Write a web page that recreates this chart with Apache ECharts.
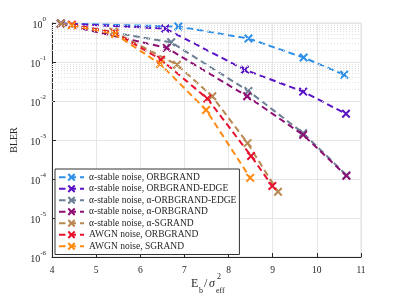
<!DOCTYPE html>
<html><head><meta charset="utf-8">
<script src="https://cdn.jsdelivr.net/npm/echarts@6/dist/echarts.min.js"></script>
<style>html,body{margin:0;padding:0;background:#fff}#c{width:399px;height:299px}</style>
</head><body><div id="c"></div>
<script>
// ---- data ----
const seriesNames = [
  'α-stable noise, ORBGRAND',
  'α-stable noise, ORBGRAND-EDGE',
  'α-stable noise, α-ORBGRAND-EDGE',
  'α-stable noise, α-ORBGRAND',
  'α-stable noise, α-SGRAND',
  'AWGN noise, ORBGRAND',
  'AWGN noise, SGRAND'
];
const xStableOrb = [4.2, 6.86, 8.45, 9.7, 10.62];
const yStableOrb = [0.97, 0.81, 0.40, 0.13, 0.047];
const xStableOrbEdge = [4.2, 6.57, 8.37, 9.69, 10.66];
const yStableOrbEdge = [0.97, 0.72, 0.063, 0.0174, 0.0047];
const xStableAOrbEdge = [4.2, 6.7, 8.45, 9.69, 10.67];
const yStableAOrbEdge = [0.96, 0.32, 0.018, 0.0015, 0.000126];
const xStableAOrb = [4.2, 6.6, 8.42, 9.69, 10.67];
const yStableAOrb = [0.95, 0.23, 0.0132, 0.00135, 0.00012];
const xStableASgrand = [4.2, 5.39, 6.83, 7.63, 8.43, 9.12];
const yStableASgrand = [0.97, 0.6, 0.085, 0.0132, 0.00083, 0.000047];
const xAwgnOrb = [4.45, 5.43, 6.47, 7.52, 8.51, 8.99];
const yAwgnOrb = [0.91, 0.56, 0.115, 0.0115, 0.00039, 0.000066];
const xAwgnSgrand = [4.45, 5.43, 6.45, 7.49, 8.49];
const yAwgnSgrand = [0.87, 0.52, 0.089, 0.0059, 0.000107];
const xTicks = [4, 5, 6, 7, 8, 9, 10, 11];
const yDecades = [-6, -5, -4, -3, -2, -1, 0];

const xs = [xStableOrb, xStableOrbEdge, xStableAOrbEdge, xStableAOrb, xStableASgrand, xAwgnOrb, xAwgnSgrand];
const ys = [yStableOrb, yStableOrbEdge, yStableAOrbEdge, yStableAOrb, yStableASgrand, yAwgnOrb, yAwgnSgrand];
const colors = ['#2e8fe8', '#5a12c6', '#6b7f95', '#8c0f73', '#b98750', '#e8122f', '#ff8a12'];

const FONT = 'Liberation Serif';
const xMark = 'path://M0,0L10,10M10,0L0,10';

const series = seriesNames.map((n, i) => ({
  name: n, type: 'line', z: 3,
  data: xs[i].map((x, j) => [x, ys[i][j]]),
  symbol: xMark, symbolSize: 7.5,
  itemStyle: { color: colors[i], borderColor: colors[i], borderWidth: 2 },
  lineStyle: { color: colors[i], width: 2, type: [6.5, 4] },
  emphasis: { disabled: true }
}));

// minor log grid lines (2..9 per decade)
const minorVals = [];
for (let d = -6; d < 0; d++) for (let k = 2; k <= 9; k++) minorVals.push({ yAxis: k * Math.pow(10, d) });
series.unshift({
  name: '_minor', type: 'line', data: [], z: 1, silent: true,
  markLine: { silent: true, symbol: 'none', label: { show: false },
    lineStyle: { type: [1, 2], color: '#dedede', width: 1 }, data: minorVals }
});

const chart = echarts.init(document.getElementById('c'), null, { renderer: 'canvas' });
chart.setOption({
  animation: false,
  backgroundColor: '#fff',
  grid: { left: 52, right: 38, top: 23, bottom: 42, show: true, borderColor: '#dcdcdc', borderWidth: 1 },
  xAxis: {
    type: 'value', min: 4, max: 11, interval: 1,
    axisLine: { lineStyle: { color: '#262626', width: 1 } },
    axisTick: { inside: true, length: 4, lineStyle: { color: '#262626' } },
    axisLabel: { color: '#262626', fontFamily: FONT, fontSize: 9.5, margin: 8 },
    splitLine: { lineStyle: { color: '#e6e6e6', width: 1 } }
  },
  yAxis: {
    type: 'log', logBase: 10, min: 1e-6, max: 1,
    name: 'BLER', nameLocation: 'middle', nameGap: 28,
    nameTextStyle: { color: '#262626', fontFamily: FONT, fontSize: 10 },
    axisLine: { lineStyle: { color: '#262626', width: 1 } },
    axisTick: { inside: true, length: 4, lineStyle: { color: '#262626' } },
    axisLabel: {
      color: '#262626', fontFamily: FONT, margin: 6,
      formatter: v => '{b|10}{s|' + Math.round(Math.log10(v)) + '}',
      rich: {
        b: { fontFamily: FONT, fontSize: 10, color: '#262626', padding: [5, 0, 0, 0] },
        s: { fontFamily: FONT, fontSize: 7, color: '#262626', verticalAlign: 'top', padding: [0, 0, 6, 0] }
      }
    },
    splitLine: { lineStyle: { color: '#e6e6e6', width: 1 } }
  },
  legend: {
    data: seriesNames, orient: 'vertical', left: 55, top: 169,
    backgroundColor: '#fff', borderColor: '#333', borderWidth: 1,
    padding: [3, 3, 3, 3], itemWidth: 25, itemHeight: 8, itemGap: 1,
    textStyle: { fontFamily: FONT, fontSize: 9.5, color: '#262626', lineHeight: 10.5 },
    selectedMode: false
  },
  graphic: [
    { type: 'text', left: 191, top: 278, style: { text: 'E', font: '12px "Liberation Serif"', fill: '#262626' } },
    { type: 'text', left: 199, top: 287, style: { text: 'b', font: '8px "Liberation Serif"', fill: '#262626' } },
    { type: 'text', left: 204, top: 278, style: { text: '/', font: '12px "Liberation Serif"', fill: '#262626' } },
    { type: 'text', left: 209, top: 278, style: { text: 'σ', font: 'italic 12px "Liberation Serif"', fill: '#262626' } },
    { type: 'text', left: 217, top: 273, style: { text: '2', font: '8px "Liberation Serif"', fill: '#262626' } },
    { type: 'text', left: 216, top: 287, style: { text: 'eff', font: '8px "Liberation Serif"', fill: '#262626' } }
  ],
  series: series
});
</script></body></html>
